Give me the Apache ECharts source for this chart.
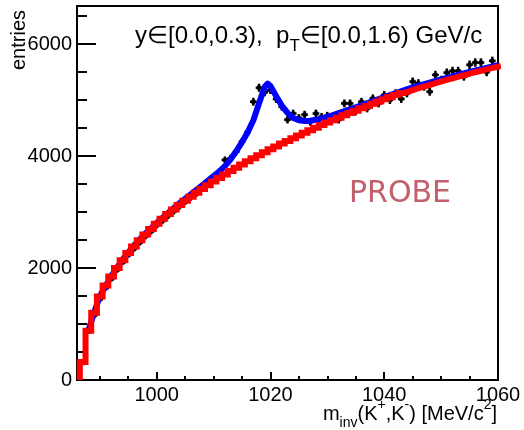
<!DOCTYPE html>
<html><head><meta charset="utf-8">
<script src="https://cdn.jsdelivr.net/npm/echarts@6.0.0/dist/echarts.min.js"></script>
<style>html,body{margin:0;padding:0;background:#fff}#c{width:524px;height:430px}</style>
</head><body><div id="c"></div>
<script>
// bin centres (MeV/c^2), 1 MeV bins
const binCenters = [987,988,989,990,991,992,993,994,995,996,997,998,999,1000,1001,1002,1003,1004,1005,1006,1007,1008,1009,1010,1011,1012,1013,1014,1015,1016,1017,1018,1019,1020,1021,1022,1023,1024,1025,1026,1027,1028,1029,1030,1031,1032,1033,1034,1035,1036,1037,1038,1039,1040,1041,1042,1043,1044,1045,1046,1047,1048,1049,1050,1051,1052,1053,1054,1055,1056,1057,1058,1059,1060];
// measured entries (black points)
const dataCounts = [300,860,1150,1440,1640,1800,1960,2100,2230,2340,2450,2560,2650,2760,2840,2930,3010,3100,3180,3260,3330,3420,3500,3570,3680,3930,3960,4080,4260,4430,4970,5220,5140,5180,5020,4880,4650,4760,4680,4740,4610,4760,4700,4720,4700,4650,4940,4940,4800,4970,4850,5030,4940,5090,5000,5120,5020,5120,5330,5300,5240,5150,5450,5360,5490,5520,5520,5420,5630,5670,5670,5500,5700];
// background (red histogram)
const bkgCounts = [320,880,1200,1490,1690,1850,2000,2140,2268,2386,2496,2599,2697,2790,2879,2964,3045,3124,3200,3273,3344,3413,3480,3545,3609,3670,3731,3790,3848,3905,3960,4014,4068,4120,4171,4222,4271,4320,4368,4415,4462,4507,4553,4597,4641,4685,4727,4770,4811,4853,4893,4934,4974,5013,5051,5090,5127,5160,5195,5225,5255,5285,5315,5345,5375,5400,5430,5455,5485,5510,5535,5560,5585,5610];
// total fit (blue curve)
const fitMass = [988,989,990,992,994,996,998,1000,1002,1004,1006,1008,1010,1011,1012,1013,1014,1015,1016,1017,1018,1019,1019.5,1020,1021,1022,1023,1024,1025,1026,1027,1028,1030,1032,1035,1040,1045,1050,1055,1060];
const fitValues = [880,1200,1490,1855,2150,2400,2615,2805,2984,3154,3318,3478,3640,3724,3820,3941,4090,4248,4425,4640,4944,5238,5294,5250,5071,4902,4771,4680,4638,4625,4632,4647,4697,4765,4871,5053,5225,5367,5503,5625];
// axis ticks
const xMajorTicks = [1000,1020,1040,1060];
const xMinorTicks = [990,995,1005,1010,1015,1025,1030,1035,1045,1050,1055];
const yMajorTicks = [0,2000,4000,6000];
const yMinorTicks = [500,1000,1500,2500,3000,3500,4500,5000,5500,6500];
const halfBin = 0.5;

const FONT = 'Liberation Sans, Arial, Helvetica, sans-serif';
const chart = echarts.init(document.getElementById('c'), null, {renderer: 'canvas'});

const bkgStep = [[binCenters[0] - halfBin, 0]].concat(binCenters.map((c, i) => [c + halfBin, bkgCounts[i]]));
const dataPts = dataCounts.map((v, i) => [binCenters[i], v]);
const fitPts = fitMass.map((m, i) => [m, fitValues[i]]);

function xAxisBase(extra) {
  return Object.assign({
    type: 'value', min: 986, max: 1060, gridIndex: 0, position: 'bottom',
    axisLine: {show: false}, splitLine: {show: false}
  }, extra);
}
function yAxisBase(extra) {
  return Object.assign({
    type: 'value', min: 0, max: 6680, gridIndex: 0, position: 'left',
    axisLine: {show: false}, splitLine: {show: false}
  }, extra);
}
const plain = v => String(v);

const norm = {fontSize: 20, lineHeight: 32, fontFamily: FONT, fill: '#000', color: '#000'};
const sub = {fontSize: 14, lineHeight: 14, verticalAlign: 'bottom', fontFamily: FONT, fill: '#000', color: '#000'};
const sup = {fontSize: 14, lineHeight: 14, verticalAlign: 'top', fontFamily: FONT, fill: '#000', color: '#000'};
const normT = {fontSize: 24, lineHeight: 38, fontFamily: FONT, fill: '#000', color: '#000'};
const subT = {fontSize: 17, lineHeight: 17, verticalAlign: 'bottom', fontFamily: FONT, fill: '#000', color: '#000'};

chart.setOption({
  animation: false,
  backgroundColor: '#fff',
  grid: {left: 77, right: 26, top: 6, bottom: 50, show: true, borderColor: '#000', borderWidth: 2, backgroundColor: 'transparent'},
  xAxis: [
    xAxisBase({
      axisTick: {show: true, inside: true, length: 8, lineStyle: {color: '#000', width: 2}, customValues: xMajorTicks},
      axisLabel: {show: true, customValues: xMajorTicks, formatter: plain, fontSize: 20, fontFamily: FONT, color: '#000', margin: 5}
    }),
    xAxisBase({
      axisTick: {show: true, inside: true, length: 4, lineStyle: {color: '#000', width: 2}, customValues: xMinorTicks},
      axisLabel: {show: false}
    })
  ],
  yAxis: [
    yAxisBase({
      axisTick: {show: true, inside: true, length: 19, lineStyle: {color: '#000', width: 2}, customValues: yMajorTicks},
      axisLabel: {show: true, customValues: yMajorTicks, formatter: plain, fontSize: 20, fontFamily: FONT, color: '#000', margin: 5}
    }),
    yAxisBase({
      axisTick: {show: true, inside: true, length: 10, lineStyle: {color: '#000', width: 2}, customValues: yMinorTicks},
      axisLabel: {show: false}
    })
  ],
  series: [
    {
      type: 'custom', name: 'data', xAxisIndex: 0, yAxisIndex: 0, z: 2,
      data: dataPts,
      renderItem: function (params, api) {
        const x = api.value(0), y = api.value(1), e = Math.sqrt(y);
        const pl = api.coord([x - halfBin, y]), pr = api.coord([x + halfBin, y]);
        const pt = api.coord([x, y + e]), pb = api.coord([x, y - e]);
        const p = api.coord([x, y]);
        const st = {stroke: '#000', lineWidth: 2.5};
        return {type: 'group', children: [
          {type: 'line', shape: {x1: pl[0] - 0.5, y1: pl[1], x2: pr[0] + 0.5, y2: pr[1]}, style: st},
          {type: 'line', shape: {x1: pt[0], y1: pt[1], x2: pb[0], y2: pb[1]}, style: st},
          {type: 'rect', shape: {x: p[0] - 2, y: p[1] - 2, width: 4, height: 4}, style: {fill: '#000'}}
        ]};
      }
    },
    {
      type: 'line', name: 'fit', xAxisIndex: 0, yAxisIndex: 0, z: 3,
      data: fitPts, showSymbol: false, symbol: 'none',
      lineStyle: {color: '#0000ff', width: 6, join: 'round'}
    },
    {
      type: 'line', name: 'background', xAxisIndex: 0, yAxisIndex: 0, z: 4,
      data: bkgStep, step: 'start', showSymbol: false, symbol: 'none',
      lineStyle: {color: '#ff0000', width: 6, join: 'miter'}
    }
  ],
  graphic: [
    {
      type: 'text', x: 135, y: 36, z: 10,
      style: {
        text: '{n|y∈[0.0,0.3),  p}{sub|T}{n|∈[0.0,1.6) GeV/c}',
        rich: {n: normT, sub: subT},
        align: 'left', textAlign: 'left', verticalAlign: 'middle', textVerticalAlign: 'middle',
        fontSize: 24, fontFamily: FONT, fill: '#000'
      }
    },
    {
      type: 'text', x: 497, y: 414, z: 10,
      style: {
        text: '{n|m}{sub|inv}{n|(K}{sup|+}{n|,K}{sup|-}{n|) [MeV/c}{sup|2}{n|]}',
        rich: {n: norm, sub: sub, sup: sup},
        align: 'right', textAlign: 'right', verticalAlign: 'middle', textVerticalAlign: 'middle',
        fontSize: 20, fontFamily: FONT, fill: '#000'
      }
    },
    {
      type: 'text', x: 19, y: 10, rotation: Math.PI / 2, z: 10,
      style: {
        text: 'entries', fontSize: 20, fontFamily: FONT, fill: '#000',
        align: 'right', textAlign: 'right', verticalAlign: 'middle', textVerticalAlign: 'middle'
      }
    },
    {
      type: 'text', x: 400, y: 194, z: 10,
      style: {
        text: 'PROBE', fontSize: 30, fontFamily: 'DejaVu Sans, sans-serif', fill: '#c0616b',
        align: 'center', textAlign: 'center', verticalAlign: 'middle', textVerticalAlign: 'middle'
      }
    }
  ]
});
</script>
</body></html>
